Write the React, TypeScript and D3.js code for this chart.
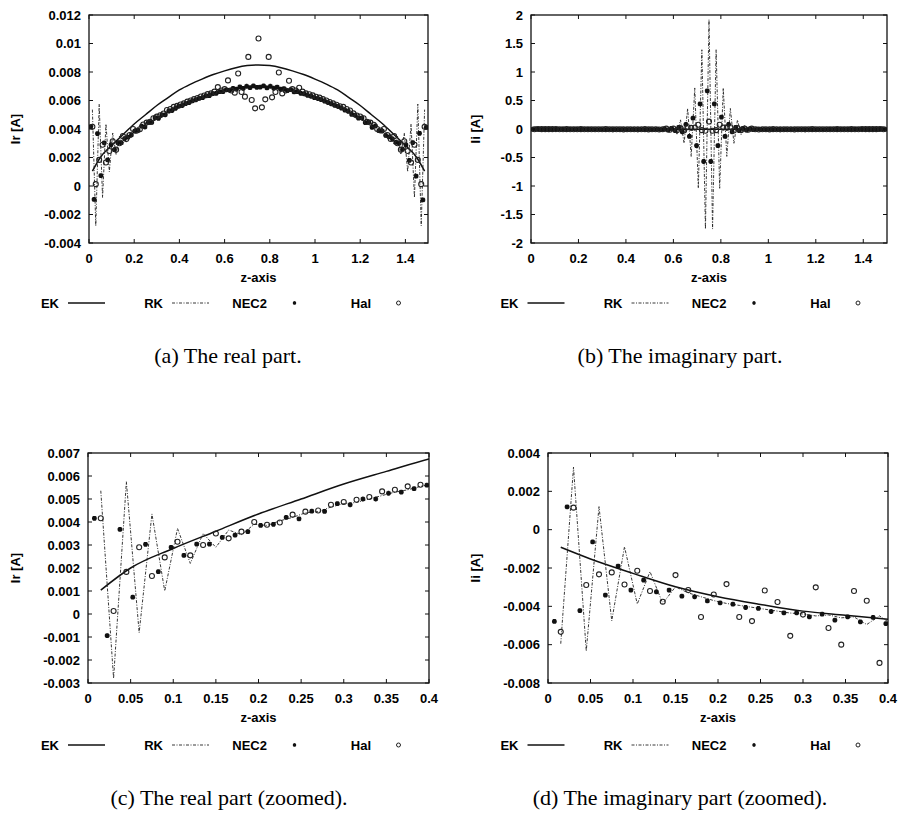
import React from 'react'
import * as d3 from 'd3'

// sample positions along the wire (z in m)
const nec2Z = d3.range(100).map(i => 0.0075 + 0.015 * i)
const halZ = d3.range(99).map(i => 0.015 + 0.015 * i)
const ekZ = [0.015, 0.05, 0.1, 0.15, 0.2, 0.25, 0.3, 0.35, 0.4, 0.45, 0.5, 0.55, 0.6, 0.65, 0.7, 0.75,
  0.8, 0.85, 0.9, 0.95, 1.0, 1.05, 1.1, 1.15, 1.2, 1.25, 1.3, 1.35, 1.4, 1.45, 1.485]

// real part, mA
const ekRe = [1.04, 2.0, 2.85, 3.6, 4.35, 5.0, 5.65, 6.2, 6.74, 7.15, 7.5, 7.82, 8.08, 8.3, 8.45, 8.5,
  8.45, 8.3, 8.08, 7.82, 7.5, 7.15, 6.74, 6.2, 5.65, 5.0, 4.35, 3.6, 2.85, 2.0, 1.04]
const rkRe = [5.36, -2.8, 5.75, -0.81, 4.35, 1.0, 3.72, 2.2, 3.5, 2.9,
  3.65, 3.45, 3.9, 3.85, 4.05, 4.2, 4.4, 4.45, 4.65, 4.8,
  4.85, 5.0, 5.15, 5.3, 5.4, 5.55, 5.65,
  5.75, 5.85, 5.95, 6.05, 6.15, 6.25, 6.32, 6.4, 6.48, 6.55, 6.62, 6.68, 6.74, 6.8, 6.84,
  6.88, 6.92, 6.95, 6.98, 7.0, 7.02, 7.02,
  7.03,
  7.02, 7.02, 7.0, 6.98, 6.95, 6.92, 6.88, 6.84, 6.8, 6.74,
  6.68, 6.62, 6.55, 6.48, 6.4, 6.32, 6.25, 6.15, 6.05, 5.95,
  5.85, 5.75, 5.65, 5.55, 5.4, 5.3, 5.15, 5.0, 4.85, 4.8,
  4.65, 4.45, 4.4, 4.2, 4.05, 3.85, 3.9, 3.45, 3.65, 2.9,
  3.5, 2.2, 3.72, 1.0, 4.35, -0.81, 5.75, -2.8, 5.36]
const nec2Re = [4.16, -0.94, 3.68, 0.73, 3.03, 1.84, 2.9, 2.55, 3.04, 3.04,
  3.33, 3.43, 3.58, 3.85, 3.9, 4.2, 4.14, 4.47, 4.46, 4.8,
  4.75, 5.0, 5.0, 5.25, 5.3, 5.45, 5.6, 5.65, 5.78, 5.85,
  5.98, 6.05, 6.15, 6.2, 6.32, 6.35, 6.48, 6.5, 6.62, 6.62,
  6.75, 6.72, 6.85, 6.8, 6.95, 6.85, 7.0, 6.9, 7.02, 6.92,
  6.94, 7.02, 6.88, 7.0, 6.86, 6.94, 6.8, 6.84, 6.7, 6.76,
  6.6, 6.63, 6.5, 6.46, 6.36, 6.3, 6.2, 6.14, 6.06, 5.96,
  5.86, 5.76, 5.66, 5.58, 5.46, 5.32, 5.24, 5.02, 4.98, 4.76,
  4.78, 4.45, 4.48, 4.12, 4.22, 3.88, 3.86, 3.56, 3.45, 3.3,
  3.06, 3.0, 2.58, 2.88, 1.8, 3.05, 0.7, 3.7, -0.98, 4.12]
const halRe = [4.16, 0.13, 1.83, 2.9, 1.65, 2.46, 3.14, 2.55, 3.0, 3.5,
  3.29, 3.58, 4.0, 3.88, 3.98, 4.32, 4.45, 4.5, 4.75, 4.87,
  4.97, 5.09, 5.33, 5.4, 5.55, 5.62,
  5.72, 5.8, 5.92, 6.0, 6.1, 6.18, 6.28, 6.35, 6.45, 6.5,
  6.62, 6.94, 6.7, 6.8, 7.41, 6.7, 6.55, 7.9, 6.6, 6.27,
  9.06, 6.03, 5.45,
  10.35,
  5.52, 6.08, 9.06, 6.22, 6.6, 7.97, 6.5, 6.7, 7.39, 6.8,
  6.7, 6.9, 6.62, 6.5, 6.44, 6.36, 6.26, 6.2, 6.1, 6.0,
  5.9, 5.8, 5.7, 5.6, 5.55, 5.4, 5.3, 5.1, 4.95, 4.88,
  4.75, 4.5, 4.45, 4.3, 4.0, 3.9, 4.0, 3.58, 3.3, 3.5,
  3.0, 2.55, 3.14, 2.46, 1.65, 2.9, 1.83, 0.13, 4.16]

// imaginary part, mA
const ekIm = [-0.92, -1.53, -2.28, -2.98, -3.5, -3.9, -4.25, -4.46, -4.67, -4.85, -5.0, -5.1, -5.2, -5.25, -5.3, -5.3,
  -5.3, -5.25, -5.2, -5.1, -5.0, -4.85, -4.67, -4.46, -4.25, -3.9, -3.5, -2.98, -2.28, -1.53, -0.92]
const rkIm = [-5.95, 3.26, -6.33, 1.2, -4.76, -0.89, -3.88, -2.19, -3.85, -2.98,
  -3.3, -3.5, -3.7, -3.85, -3.95, -4.05, -4.15, -4.25, -4.35, -4.4,
  -4.5, -4.45, -4.6, -4.55, -4.95, -4.5, -4.95,
  -4.8, -5.0, -5.1, -4.9, -5.3, -4.7, -5.8, -3.9, -8, 0,
  20, -40, 60, -100, 160, -250, 360, -480, 720, -1040, 1390, -1755,
  1920,
  -1755, 1390, -1040, 720, -480, 360, -250, 160, -100, 60, -40, 20,
  0, -8, -3.9, -5.8, -4.7, -5.3, -4.9, -5.1, -5.0, -4.8, -4.95,
  -4.5, -4.95, -4.55, -4.6, -4.45, -4.5, -4.4, -4.35, -4.25, -4.15,
  -4.05, -3.95, -3.85, -3.7, -3.5, -3.3, -2.98, -3.85, -2.19, -3.88,
  -0.89, -4.76, 1.2, -6.33, 3.26, -5.95]
const nec2Im = [-4.79, 1.19, -4.22, -0.64, -3.41, -1.9, -3.15, -2.63, -3.24, -3.15,
  -3.47, -3.5, -3.72, -3.82, -3.89, -4.06, -4.11, -4.27, -4.34, -4.34,
  -4.55, -4.41, -4.72, -4.55, -4.81, -4.58, -4.9,
  -4.7, -5.0, -4.9, -5.2, -5.0, -5.5, -4.6, -6.5, -3.0, -10,
  4, -18, 12, -30, 30, -50, 80, -130, 190, -290, 440, -570, 670,
  -570, 440, -290, 210, -130, 80, -50, 30, -30, 12, -18, 4,
  -10, -3.0, -6.5, -4.6, -5.5, -5.0, -5.2, -4.9, -5.0, -4.7, -4.9,
  -4.9, -4.58, -4.81, -4.55, -4.72, -4.41, -4.55, -4.34, -4.34, -4.27,
  -4.11, -4.06, -3.89, -3.82, -3.72, -3.5, -3.47, -3.15, -3.24, -2.63,
  -3.15, -1.9, -3.41, -0.64, -4.22, 1.19, -4.79]
const halIm = [-5.33, 1.15, -2.89, -2.33, -2.23, -2.86, -2.14, -3.2, -3.76, -2.37,
  -3.15, -4.56, -3.38, -2.84, -4.56, -4.77, -3.17, -3.77, -5.54, -4.43,
  -3.01, -5.13, -6.0, -3.2, -3.71, -6.95,
  -4.2, -5.6, -3.8, -6.3, -4.5, -2.9, -6.8, -5.0, -3.5, -7.5,
  -4, 6, -12, 10, -20, 15, -25, 30, 20, 25, 75, -20, -30,
  130,
  -30, -20, 75, 25, 20, 30, -25, 15, -20, 10, -12, 6, -4,
  -7.5, -3.5, -5.0, -6.8, -2.9, -4.5, -6.3, -3.8, -5.6, -4.2,
  -6.95, -3.71, -3.2, -6.0, -5.13, -3.01, -4.43, -5.54, -3.77, -3.17,
  -4.77, -4.56, -2.84, -3.38, -4.56, -3.15, -2.37, -3.76, -3.2, -2.14,
  -2.86, -2.23, -2.33, -2.89, 1.15, -5.33]

const legendNames = ['EK', 'RK', 'NEC2', 'Hal']

const panels = [
  { id: 'a', left: 89, top: 15, width: 339, height: 228, xMax: 1.5, xTicks: 7, yDomain: [-0.004, 0.012], yTicks: 8,
    part: 're', ylabel: 'Ir [A]', ylabelX: 15, legendX: 59, legendY: 307.5, caption: '(a) The real part.', captionX: 228, captionY: 363 },
  { id: 'b', left: 531, top: 15, width: 356, height: 228, xMax: 1.5, xTicks: 7, yDomain: [-2, 2], yTicks: 8,
    part: 'im', ylabel: 'Ii [A]', ylabelX: 475, legendX: 518.5, legendY: 307.5, caption: '(b) The imaginary part.', captionX: 680, captionY: 363 },
  { id: 'c', left: 88, top: 453, width: 341, height: 230, xMax: 0.4, xTicks: 8, yDomain: [-0.003, 0.007], yTicks: 10,
    part: 're', ylabel: 'Ir [A]', ylabelX: 15, legendX: 59, legendY: 749.5, caption: '(c) The real part (zoomed).', captionX: 229, captionY: 805 },
  { id: 'd', left: 548, top: 453, width: 340, height: 230, xMax: 0.4, xTicks: 8, yDomain: [-0.008, 0.004], yTicks: 6,
    part: 'im', ylabel: 'Ii [A]', ylabelX: 475, legendX: 518.5, legendY: 749.5, caption: '(d) The imaginary part (zoomed).', captionX: 680, captionY: 805 },
]

const fmt = (v: number) => String(+v.toFixed(6))
const starPath = 'M-2.4,0H2.4M0,-2.4V2.4M-1.8,-1.8L1.8,1.8M-1.8,1.8L1.8,-1.8'
const rkDash = '3 1.5 1 1.5'

function Panel({ p }: { p: any }) {
  const x = d3.scaleLinear().domain([0, p.xMax]).range([p.left, p.left + p.width])
  const y = d3.scaleLinear().domain(p.yDomain).range([p.top + p.height, p.top])
  const re = p.part === 're'
  const toA = (v: number) => v / 1000

  const ekPts = ekZ.map((z, i) => [z, (re ? ekRe : ekIm)[i]]).filter(d => d[0] <= p.xMax + 0.06)
  const rkPts = halZ.map((z, i) => [z, (re ? rkRe : rkIm)[i]]).filter(d => d[0] <= p.xMax + 0.02)
  const necPts = nec2Z.map((z, i) => [z, (re ? nec2Re : nec2Im)[i]]).filter(d => d[0] <= p.xMax)
  const halPts = halZ.map((z, i) => [z, (re ? halRe : halIm)[i]]).filter(d => d[0] <= p.xMax)

  const ekLine = d3.line<number[]>().x(d => x(d[0])).y(d => y(toA(d[1]))).curve(d3.curveMonotoneX)
  const rkLine = d3.line<number[]>().x(d => x(d[0])).y(d => y(toA(d[1])))

  const xt = x.ticks(p.xTicks).filter(t => t <= p.xMax)
  const yt = y.ticks(p.yTicks)
  const bottom = p.top + p.height
  const right = p.left + p.width
  const clipId = 'clip-' + p.id

  return (
    <g>
      <defs>
        <clipPath id={clipId}>
          <rect x={p.left} y={p.top} width={p.width} height={p.height} />
        </clipPath>
      </defs>
      <g clipPath={`url(#${clipId})`}>
        <path d={ekLine(ekPts) || ''} fill="none" stroke="#111" strokeWidth={1.5} />
        <path d={rkLine(rkPts) || ''} fill="none" stroke="#222" strokeWidth={0.9} strokeDasharray={rkDash} />
        {necPts.map((d, i) => (
          <path key={'n' + i} d={starPath} transform={`translate(${x(d[0])},${y(toA(d[1]))})`}
            stroke="#111" strokeWidth={1.6} fill="none" />
        ))}
        {halPts.map((d, i) => (
          <circle key={'h' + i} cx={x(d[0])} cy={y(toA(d[1]))} r={2.5} fill="none" stroke="#222" strokeWidth={1.1} />
        ))}
      </g>

      {/* ticks, mirrored on all four sides */}
      {xt.map(t => (
        <g key={'xt' + t}>
          <line x1={x(t)} x2={x(t)} y1={bottom} y2={bottom - 4} stroke="#111" />
          <line x1={x(t)} x2={x(t)} y1={p.top} y2={p.top + 4} stroke="#111" />
          <text x={x(t)} y={bottom + 19.5} textAnchor="middle" fontSize={13} fontWeight="bold">{fmt(t)}</text>
        </g>
      ))}
      {yt.map(t => (
        <g key={'yt' + t}>
          <line x1={p.left} x2={p.left + 4} y1={y(t)} y2={y(t)} stroke="#111" />
          <line x1={right} x2={right - 4} y1={y(t)} y2={y(t)} stroke="#111" />
          <text x={p.left - 8} y={y(t) + 4.6} textAnchor="end" fontSize={13} fontWeight="bold">{fmt(t)}</text>
        </g>
      ))}
      <rect x={p.left} y={p.top} width={p.width} height={p.height} fill="none" stroke="#111" strokeWidth={1.3} />

      <text x={(p.left + right) / 2} y={bottom + 39} textAnchor="middle" fontSize={13} fontWeight="bold">z-axis</text>
      <text transform={`translate(${p.ylabelX + 4.5},${p.top + p.height / 2}) rotate(-90)`} textAnchor="middle"
        fontSize={13} fontWeight="bold">{p.ylabel}</text>

      {legendNames.map((name, k) => {
        const tx = p.legendX + k * 104
        const cy = p.legendY - 4.5
        return (
          <g key={name}>
            <text x={tx} y={p.legendY} textAnchor="end" fontSize={13} fontWeight="bold">{name}</text>
            {k === 0 && <line x1={tx + 9} x2={tx + 46} y1={cy} y2={cy} stroke="#111" strokeWidth={1.3} />}
            {k === 1 && <line x1={tx + 9} x2={tx + 46} y1={cy} y2={cy} stroke="#222" strokeWidth={0.9} strokeDasharray={rkDash} />}
            {k === 2 && <path d={starPath} transform={`translate(${tx + 27.5},${cy}) scale(0.7)`} stroke="#111" strokeWidth={1.6} fill="none" />}
            {k === 3 && <circle cx={tx + 27.5} cy={cy} r={2} fill="none" stroke="#222" strokeWidth={1} />}
          </g>
        )
      })}

      <text x={p.captionX} y={p.captionY} textAnchor="middle" fontSize={22}
        fontFamily="'Liberation Serif', 'Times New Roman', serif">{p.caption}</text>
    </g>
  )
}

export default function App() {
  return (
    <svg width={899} height={820} style={{ position: 'absolute', left: 0, top: 0, background: '#fff' }}
      fontFamily="'Liberation Sans', Arial, Helvetica, sans-serif">
      {panels.map(p => <Panel key={p.id} p={p} />)}
    </svg>
  )
}
